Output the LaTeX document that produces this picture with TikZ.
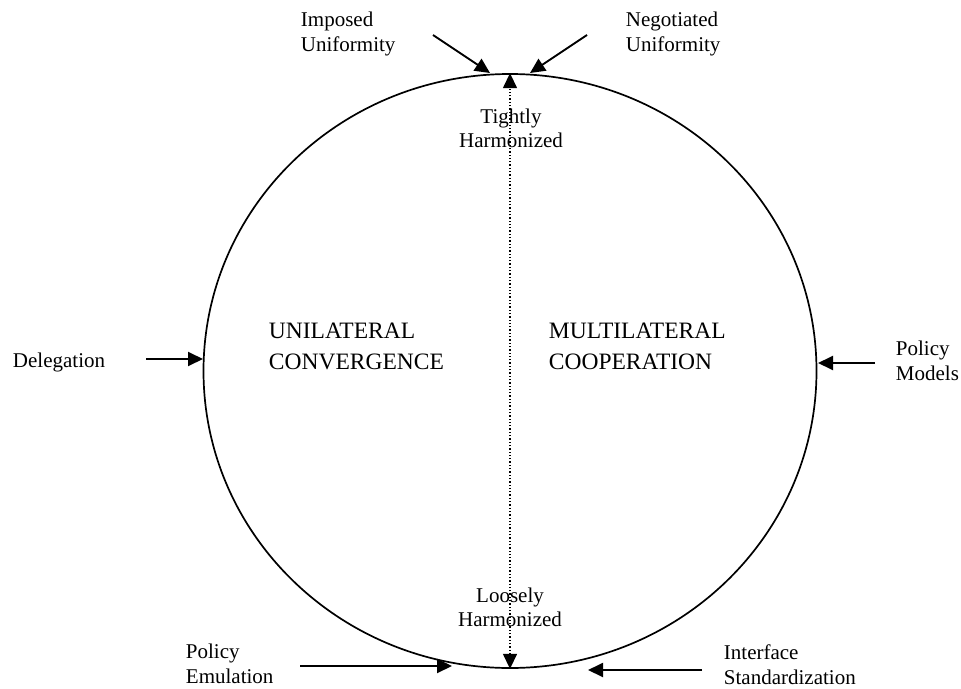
\documentclass[tikz,border=0pt]{standalone}
\usepackage{fontspec}
\setmainfont{Liberation Serif}
\usepackage{tikz}
\usetikzlibrary{arrows.meta,shapes.geometric}

\begin{document}
\begin{tikzpicture}[x=1pt,y=-1pt,->,>={Triangle[length=15pt,width=14pt]},
        line width=1.9pt,
        lbl/.style={anchor=west,inner sep=0pt,align=left,font=\fontsize{21}{25}\selectfont},
        clbl/.style={inner sep=0pt,align=center,font=\fontsize{21}{24}\selectfont},
        big/.style={anchor=west,inner sep=0pt,align=left,font=\fontsize{23.5}{31}\selectfont}]
      \useasboundingbox (0,0) rectangle (961,688);
      \node[draw,ellipse,line width=1.7pt,minimum width=613pt,minimum height=594pt,inner sep=0pt] (ring) at (510,371) {};
      % labels
      \node[lbl] (imp) at (300,34) {Imposed\\Uniformity};
      \node[lbl] (neg) at (625,34) {Negotiated\\Uniformity};
      \node[clbl] (tight) at (511,128) {Tightly\\Harmonized};
      \node[clbl] (loose) at (510,607) {Loosely\\Harmonized};
      \node[lbl] (del) at (12,362) {Delegation};
      \node[lbl] (mod) at (895,361) {Policy\\Models};
      \node[lbl] (emu) at (185,664) {Policy\\Emulation};
      \node[lbl] (itf) at (723,665) {Interface\\Standardization};
      \node[big] (uni) at (268,346) {UNILATERAL\\CONVERGENCE};
      \node[big] (mul) at (548,346) {MULTILATERAL\\COOPERATION};
      % arrow ends
      \coordinate (imp1) at (433,35);  \coordinate (imp2) at (490,73);
      \coordinate (neg1) at (587,35);  \coordinate (neg2) at (530,73);
      \coordinate (del1) at (146,359); \coordinate (del2) at (203,359);
      \coordinate (mod1) at (875,363); \coordinate (mod2) at (818,363);
      \coordinate (emu1) at (300,666); \coordinate (emu2) at (452,666);
      \coordinate (itf1) at (702,670); \coordinate (itf2) at (588,670);
      \draw (imp1) -- (imp2);
      \draw (neg1) -- (neg2);
      \draw (del1) -- (del2);
      \draw (mod1) -- (mod2);
      \draw (emu1) -- (emu2);
      \draw (itf1) -- (itf2);
      \draw[<->,dotted,line width=1.3pt] (ring.south) -- (ring.north);
    \end{tikzpicture}
\end{document}
